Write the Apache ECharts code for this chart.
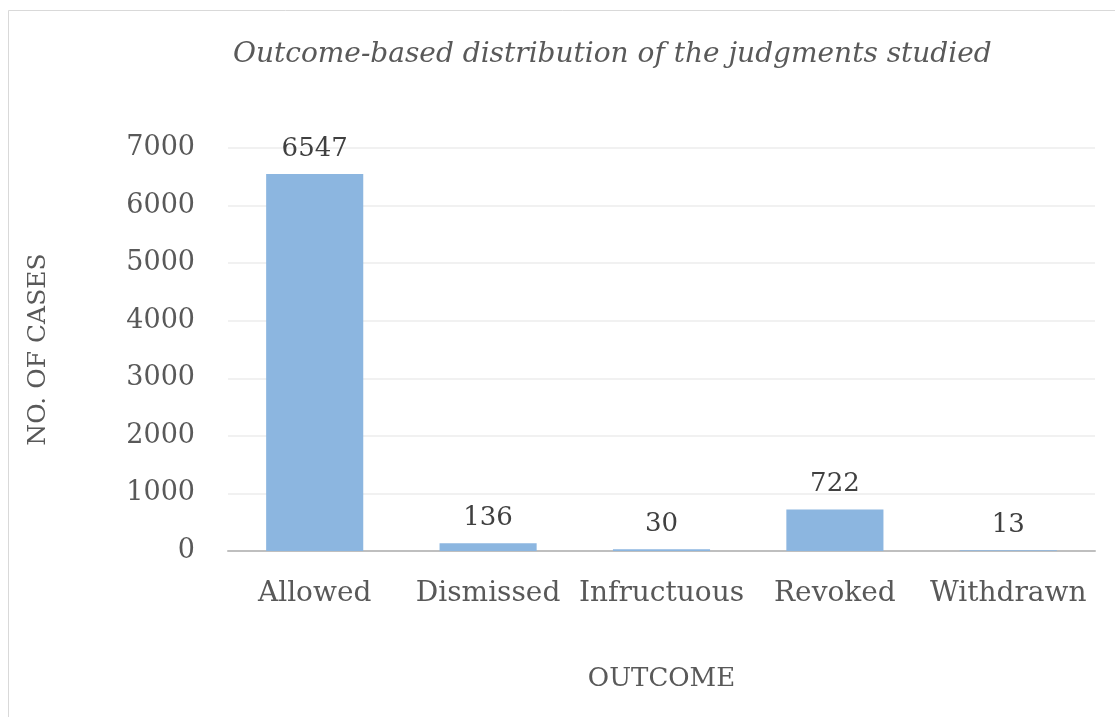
<!DOCTYPE html>
<html><head><meta charset="utf-8">
<script src="https://cdn.jsdelivr.net/npm/echarts@6/dist/echarts.min.js"></script>
<style>html,body{margin:0;padding:0;background:#fff}#c{width:1115px;height:717px}</style>
</head><body><div id="c"></div>
<script>
const categories = ['Allowed','Dismissed','Infructuous','Revoked','Withdrawn'];
const cases = [6547, 136, 30, 722, 13];
const yTicks = [0,1000,2000,3000,4000,5000,6000,7000];

const FONT = 'DejaVu Serif';
const chart = echarts.init(document.getElementById('c'));
chart.setOption({
  backgroundColor: '#fff',
  animation: false,
  graphic: [{type:'rect', shape:{x:8.5,y:10.5,width:1120,height:720}, style:{fill:'none', stroke:'#d9d9d9', lineWidth:1}}],
  title: {text:'Outcome-based distribution of the judgments studied', left:228, top:36,
    textStyle:{fontFamily:FONT, fontStyle:'italic', fontWeight:'normal', fontSize:28, color:'#595959'}},
  grid: {left:228, right:20, top:148, bottom:166},
  xAxis: {type:'category', data:categories, name:'OUTCOME', nameLocation:'middle', nameGap:115,
    nameTextStyle:{fontFamily:FONT, fontSize:26, color:'#595959'},
    axisLine:{lineStyle:{color:'#bfbfbf', width:2}}, axisTick:{show:false},
    axisLabel:{fontFamily:FONT, fontSize:28, color:'#595959', margin:29, interval:0}},
  yAxis: {type:'value', min:yTicks[0], max:yTicks[yTicks.length-1], interval:1000,
    name:'NO. OF CASES', nameLocation:'middle', nameGap:177,
    nameTextStyle:{fontFamily:FONT, fontSize:25, color:'#595959'},
    axisLine:{show:false}, axisTick:{show:false},
    axisLabel:{fontFamily:FONT, fontSize:27, color:'#595959', margin:33, formatter: v => String(v)},
    splitLine:{lineStyle:{color:'#ececec', width:1.5}}},
  series: [{type:'bar', data:cases, barWidth:'56%', itemStyle:{color:'#8cb6e0'},
    label:{show:true, position:'top', distance:12, fontFamily:FONT, fontSize:26, color:'#404040'}}]
});
</script></body></html>
